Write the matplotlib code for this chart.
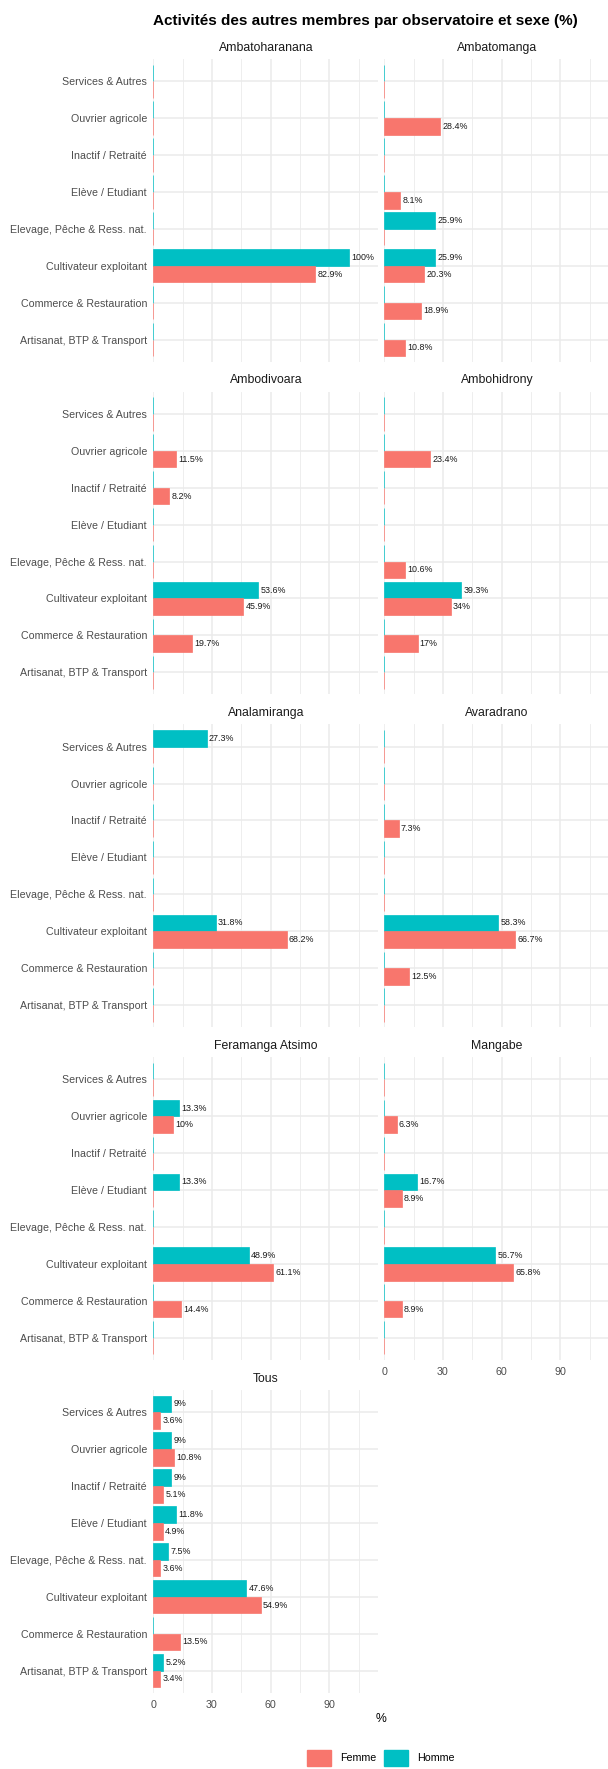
import matplotlib
matplotlib.use("Agg")
import matplotlib.pyplot as plt
from matplotlib.patches import Patch
import numpy as np

plt.rcParams['font.family'] = ['Liberation Sans', 'DejaVu Sans']

# categories, top to bottom
categories = [
    "Services & Autres",
    "Ouvrier agricole",
    "Inactif / Retraité",
    "Elève / Etudiant",
    "Elevage, Pêche & Ress. nat.",
    "Cultivateur exploitant",
    "Commerce & Restauration",
    "Artisanat, BTP & Transport",
]

observatoires = [
    "Ambatoharanana", "Ambatomanga",
    "Ambodivoara", "Ambohidrony",
    "Analamiranga", "Avaradrano",
    "Feramanga Atsimo", "Mangabe",
    "Tous",
]

# % per category (same order as categories)
femme = {
    "Ambatoharanana":   [0, 0, 0, 0, 0, 82.9, 0, 0],
    "Ambatomanga":      [0, 28.4, 0, 8.1, 0, 20.3, 18.9, 10.8],
    "Ambodivoara":      [0, 11.5, 8.2, 0, 0, 45.9, 19.7, 0],
    "Ambohidrony":      [0, 23.4, 0, 0, 10.6, 34.0, 17.0, 0],
    "Analamiranga":     [0, 0, 0, 0, 0, 68.2, 0, 0],
    "Avaradrano":       [0, 0, 7.3, 0, 0, 66.7, 12.5, 0],
    "Feramanga Atsimo": [0, 10.0, 0, 0, 0, 61.1, 14.4, 0],
    "Mangabe":          [0, 6.3, 0, 8.9, 0, 65.8, 8.9, 0],
    "Tous":             [3.6, 10.8, 5.1, 4.9, 3.6, 54.9, 13.5, 3.4],
}
homme = {
    "Ambatoharanana":   [0, 0, 0, 0, 0, 100.0, 0, 0],
    "Ambatomanga":      [0, 0, 0, 0, 25.9, 25.9, 0, 0],
    "Ambodivoara":      [0, 0, 0, 0, 0, 53.6, 0, 0],
    "Ambohidrony":      [0, 0, 0, 0, 0, 39.3, 0, 0],
    "Analamiranga":     [27.3, 0, 0, 0, 0, 31.8, 0, 0],
    "Avaradrano":       [0, 0, 0, 0, 0, 58.3, 0, 0],
    "Feramanga Atsimo": [0, 13.3, 0, 13.3, 0, 48.9, 0, 0],
    "Mangabe":          [0, 0, 0, 16.7, 0, 56.7, 0, 0],
    "Tous":             [9.0, 9.0, 9.0, 11.8, 7.5, 47.6, 0, 5.2],
}

col_femme = "#F8766D"
col_homme = "#00BFC4"


def fmt(v):
    v = round(v, 1)
    if v == int(v):
        return f"{int(v)}%"
    return f"{v:.1f}%"


W, H = 608, 1769
fig = plt.figure(figsize=(W / 100, H / 100), dpi=100)

# layout in pixels
panel_w = 225
panel_h = 302.7
lefts = [153.3, 384.3]
top0 = 59
row_step = 332.75

ypos = np.arange(len(categories))[::-1]
bw = 0.45

for k, obs in enumerate(observatoires):
    row, col = divmod(k, 2)
    top = top0 + row * row_step
    ax = fig.add_axes([lefts[col] / W, 1 - (top + panel_h) / H,
                       panel_w / W, panel_h / H])

    f = np.array(femme[obs])
    h = np.array(homme[obs])
    ax.barh(ypos + bw / 2, h, height=bw, color=col_homme,
            edgecolor=col_homme, linewidth=0.5, zorder=3)
    ax.barh(ypos - bw / 2, f, height=bw, color=col_femme,
            edgecolor=col_femme, linewidth=0.5, zorder=3)

    # value labels, skipped for empty bars
    for vals, off in ((h, bw / 2), (f, -bw / 2)):
        for y, v in zip(ypos, vals):
            if v > 0:
                ax.annotate(fmt(v), (v, y + off), xytext=(1.6, 0),
                            textcoords="offset points", va="center",
                            ha="left", fontsize=6.4, color="#1a1a1a",
                            zorder=4)

    ax.set_xlim(0, 115)
    ax.set_ylim(-0.6, len(categories) - 0.4)
    ax.set_xticks([0, 30, 60, 90])
    ax.set_xticks([15, 45, 75, 105], minor=True)
    ax.set_yticks(ypos)
    ax.grid(which="major", color="#EBEBEB", linewidth=1.1, zorder=0)
    ax.grid(which="minor", axis="x", color="#EBEBEB", linewidth=0.6, zorder=0)
    ax.set_axisbelow(True)
    for s in ax.spines.values():
        s.set_visible(False)
    ax.tick_params(which="both", length=0, labelsize=7.7, labelcolor="#4D4D4D",
                   pad=4.5)

    if col == 0:
        ax.set_yticklabels(categories)
    else:
        ax.set_yticklabels([])
    if obs in ("Tous", "Mangabe"):
        ax.tick_params(axis="x", pad=5)
    else:
        ax.set_xticklabels([])

    ax.text(0.5, 1 + 11.3 / panel_h, obs, transform=ax.transAxes,
            ha="center", va="center", fontsize=8.8, color="#1A1A1A")

fig.text(153.3 / W, 1 - 20.7 / H,
         "Activités des autres membres par observatoire et sexe (%)",
         ha="left", va="center", fontsize=11, fontweight="bold")

fig.text(381 / W, 1 - 1719 / H, "%", ha="center", va="center", fontsize=8.8)

handles = [Patch(color=col_femme, label="Femme"),
           Patch(color=col_homme, label="Homme")]
fig.legend(handles=handles, loc="center", bbox_to_anchor=(381 / W, 1 - 1758 / H),
           ncol=2, frameon=False, fontsize=7.7, handlelength=2.2,
           handleheight=1.85, handletextpad=0.9, columnspacing=0.7,
           borderpad=0, borderaxespad=0)

fig.savefig("out.png", dpi=100)
